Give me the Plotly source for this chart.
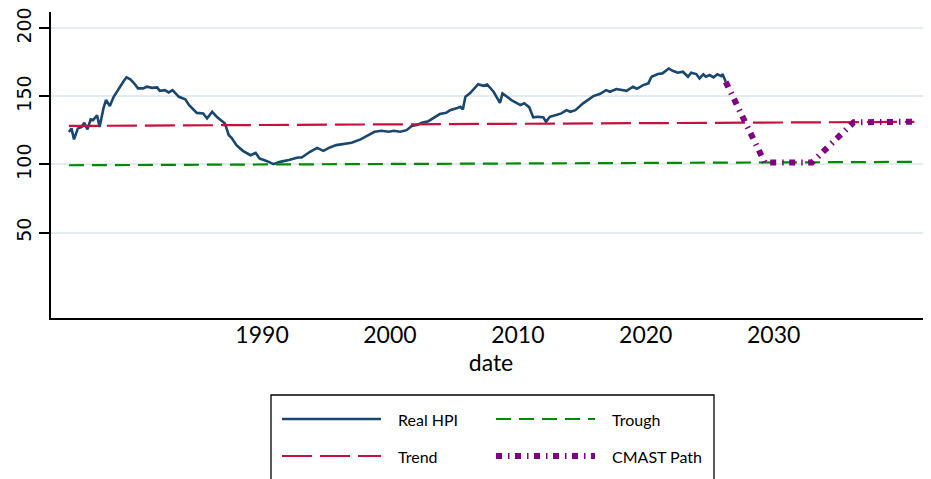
import plotly.graph_objects as go

# ---------------- data ----------------
hpi_date = [1974.9, 1975.1, 1975.3, 1975.6, 1975.9, 1976.1, 1976.35, 1976.6, 1976.8, 1977.1,
            1977.3, 1977.6, 1977.8, 1978.1, 1978.4, 1978.8, 1979.2, 1979.4, 1979.7, 1980.0,
            1980.3, 1980.7, 1981.0, 1981.4, 1981.8, 1982.0, 1982.4, 1982.7, 1983.0, 1983.5,
            1984.0, 1984.3, 1984.9, 1985.4, 1985.7, 1986.1, 1986.5, 1987.1, 1987.4, 1987.6,
            1988.0, 1988.5, 1989.1, 1989.5, 1989.8, 1990.4, 1990.9, 1991.4, 1992.1, 1992.8,
            1993.1, 1993.75, 1994.3, 1994.8, 1995.3, 1995.8, 1996.5, 1997.0, 1997.7, 1998.2,
            1998.8, 1999.35, 1999.9, 2000.3, 2000.8, 2001.3, 2001.7, 2002.1, 2002.5, 2003.0,
            2003.5, 2003.9, 2004.4, 2004.7, 2005.2, 2005.5, 2005.7, 2005.9, 2006.25, 2006.5,
            2006.9, 2007.3, 2007.6, 2008.1, 2008.4, 2008.6, 2008.8, 2009.5, 2010.2, 2010.5,
            2010.9, 2011.2, 2011.6, 2012.0, 2012.2, 2012.5, 2013.0, 2013.4, 2013.8, 2014.1,
            2014.5, 2015.1, 2015.9, 2016.4, 2016.9, 2017.2, 2017.7, 2018.5, 2019.0, 2019.3,
            2019.8, 2020.2, 2020.45, 2020.95, 2021.3, 2021.8, 2022.1, 2022.5, 2022.9, 2023.3,
            2023.55, 2023.95, 2024.2, 2024.5, 2024.7, 2025.0, 2025.3, 2025.6, 2025.9, 2026.0,
            2026.25]
hpi_value = [123.8, 126.5, 118.4, 126.5, 127.6, 130.6, 125.7, 133.1, 132.6, 136.2,
             127.6, 141.2, 147.3, 142.9, 149.7, 155.9, 161.5, 164.0, 162.5, 159.6,
             155.9, 155.9, 157.1, 156.3, 156.6, 154.1, 154.6, 152.9, 154.6, 149.7,
             147.8, 143.6, 137.9, 137.5, 133.8, 138.7, 134.6, 130.1, 121.5, 119.8,
             114.2, 110.0, 106.8, 108.5, 104.4, 102.4, 100.2, 101.9, 103.2, 105.1,
             105.1, 109.3, 112.2, 110.0, 112.5, 114.2, 115.4, 115.9, 118.4, 120.8,
             124.0, 124.7, 124.0, 124.7, 124.0, 125.2, 128.2, 128.9, 130.6, 131.8,
             134.5, 137.0, 137.9, 139.9, 141.2, 142.4, 140.4, 149.7, 152.2, 154.6,
             159.0, 157.8, 158.8, 153.4, 148.5, 145.3, 152.2, 147.3, 143.6, 144.9,
             141.9, 134.6, 135.0, 134.6, 131.3, 135.0, 136.3, 137.5, 139.9, 138.7,
             139.9, 144.9, 150.2, 151.7, 154.6, 153.4, 155.4, 154.1, 157.1, 155.6,
             158.3, 159.6, 164.4, 166.4, 166.9, 170.5, 168.8, 167.4, 168.1, 164.4,
             167.4, 166.4, 163.2, 166.2, 164.4, 165.7, 164.0, 166.2, 164.9, 166.4,
             160.7]

trend_date = [1974.9, 2041.0]
trend_value = [128.3, 131.3]

trough_date = [1974.9, 2040.9]
trough_value = [99.4, 101.9]

cmast_date = [2026.25, 2029.3, 2033.0, 2036.25, 2040.9]
cmast_value = [160.7, 101.5, 101.5, 131.0, 131.4]

x_ticks = [1990, 2000, 2010, 2020, 2030]
y_ticks = [50, 100, 150, 200]

legend_labels = ["Real HPI", "Trough", "Trend", "CMAST Path"]

# ---------------- styling ----------------
# The page body has an 8px default margin, so the figure sits at (8, 8).
OFF = 8
W, H = 931 - OFF, 479 - OFF
ML, MR, MT = 51 - OFF, 0, 12 - OFF
MB = H - (318 - OFF)
PW, PH = W - ML - MR, H - MT - MB

NAVY = "#1a476f"
RED = "#c8103e"
GREEN = "#008a00"
PURPLE = "#800080"
GRID = "#e3edf0"

DASH_TREND = "30px,8px"
DASH_TROUGH = "15px,8px"
DASH_CMAST = "6px,6px,1.5px,5.5px"

def px_x(p):
    # p: horizontal position in the browser window
    return (p - OFF - ML) / PW

def px_y(p):
    # p: vertical position in the browser window
    return (H - MB - (p - OFF)) / PH

fig = go.Figure()
fig.add_trace(go.Scatter(x=hpi_date, y=hpi_value, mode="lines", name=legend_labels[0],
                         line=dict(color=NAVY, width=2.6), showlegend=False))
fig.add_trace(go.Scatter(x=trend_date, y=trend_value, mode="lines", name=legend_labels[2],
                         line=dict(color=RED, width=2.2, dash=DASH_TREND), showlegend=False))
fig.add_trace(go.Scatter(x=trough_date, y=trough_value, mode="lines", name=legend_labels[1],
                         line=dict(color=GREEN, width=2.2, dash=DASH_TROUGH), showlegend=False))
fig.add_trace(go.Scatter(x=cmast_date, y=cmast_value, mode="lines", name=legend_labels[3],
                         line=dict(color=PURPLE, width=6, dash=DASH_CMAST), showlegend=False))

# ---------------- manual legend ----------------
shapes = []
annotations = []
shapes.append(dict(type="rect", xref="paper", yref="paper",
                   x0=px_x(271), x1=px_x(714), y0=px_y(395), y1=px_y(500),
                   line=dict(color="black", width=1.3), fillcolor="white", layer="above"))
legend_items = [
    (legend_labels[0], 282, 419, dict(color=NAVY, width=2.6)),
    (legend_labels[1], 496, 419, dict(color=GREEN, width=2.2, dash=DASH_TROUGH)),
    (legend_labels[2], 282, 456, dict(color=RED, width=2.2, dash=DASH_TREND)),
    (legend_labels[3], 496, 456, dict(color=PURPLE, width=6, dash=DASH_CMAST)),
]
for label, x0, yy, ln in legend_items:
    shapes.append(dict(type="line", xref="paper", yref="paper",
                       x0=px_x(x0), x1=px_x(x0 + 99), y0=px_y(yy), y1=px_y(yy),
                       line=ln, layer="above"))
    annotations.append(dict(xref="paper", yref="paper", x=px_x(x0 + 114), y=px_y(yy),
                            text=label, showarrow=False, xanchor="left", yanchor="middle",
                            font=dict(family="Lato, Carlito, sans-serif", size=16, color="black")))

fig.update_layout(
    width=W, height=H,
    margin=dict(l=ML, r=MR, t=MT, b=MB, pad=0, autoexpand=False),
    paper_bgcolor="white", plot_bgcolor="white",
    showlegend=False,
    shapes=shapes, annotations=annotations,
    xaxis=dict(range=[1973.5, 2042.3], tickvals=x_ticks, ticktext=[str(t) for t in x_ticks],
               automargin=False,
               showgrid=False, zeroline=False, showline=True, linecolor="black", linewidth=1.5,
               ticks="", ticklabelstandoff=-4,
               tickfont=dict(family="Lato, Carlito, sans-serif", size=23, color="black"),
               title=dict(text="date", standoff=2,
                          font=dict(family="Lato, Carlito, sans-serif", size=23, color="black"))),
    yaxis=dict(range=[-12.8, 212.0], tickvals=y_ticks, ticktext=[str(t) for t in y_ticks],
               automargin=False, ticklabeloverflow="allow",
               showgrid=True, gridcolor=GRID, gridwidth=1.5, zeroline=False,
               showline=True, linecolor="black", linewidth=1.5,
               ticks="outside", ticklen=10, tickwidth=1.5, tickcolor="black",
               tickangle=-90, ticklabelstandoff=1,
               tickfont=dict(family="DejaVu Sans, sans-serif", size=19, color="black")),
)

fig.write_html("out.html")
